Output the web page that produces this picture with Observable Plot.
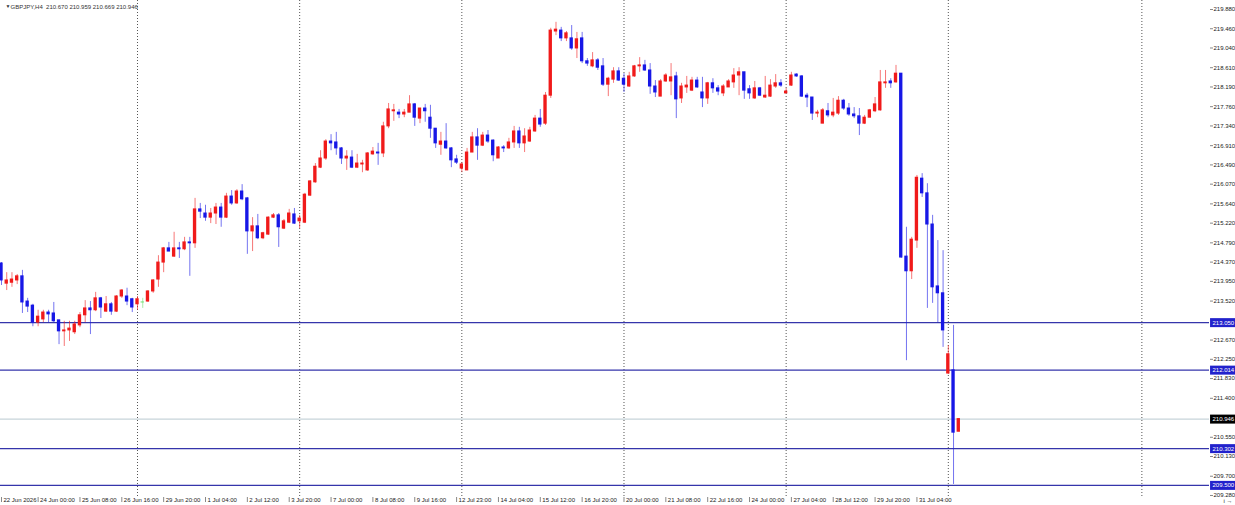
<!DOCTYPE html>
<html>
<head>
<meta charset="utf-8">
<script src="https://cdn.jsdelivr.net/npm/d3@7"></script>
<script src="https://cdn.jsdelivr.net/npm/@observablehq/plot@0.6"></script>
<style>
  body { margin: 0; background: #fff; }
  #chart { width: 1235px; height: 505px; }
</style>
</head>
<body>
<div id="chart"></div>
<script>
// GBPJPY H4, una vela por barra (índice 0..183)
const opens = [214.34,213.90,213.92,213.97,214.06,213.51,213.42,213.05,213.12,213.27,
  213.25,213.10,212.86,212.88,212.84,212.99,213.21,213.36,213.32,213.58,
  213.29,213.45,213.29,213.62,213.62,213.56,213.45,213.49,213.51,213.73,
  213.99,214.36,214.67,214.49,214.67,214.65,214.80,214.78,215.52,215.43,
  215.34,215.43,215.56,215.34,215.80,215.65,215.91,215.76,215.04,215.15,
  214.89,214.97,215.34,215.39,215.10,215.23,215.41,215.26,215.23,215.82,
  216.11,216.43,216.63,217.00,216.98,216.85,216.63,216.65,216.43,216.50,
  216.37,216.72,216.76,216.74,217.33,217.66,217.63,217.59,217.63,217.81,
  217.50,217.72,217.52,217.28,216.93,217.00,216.85,216.61,216.41,216.37,
  216.76,217.09,216.91,217.13,217.02,216.63,216.87,216.85,216.98,217.22,
  216.96,217.00,217.22,217.50,217.39,218.00,219.40,219.42,219.25,219.25,
  219.03,219.25,218.75,218.64,218.77,218.64,218.24,218.35,218.53,218.37,
  218.20,218.42,218.64,218.66,218.55,218.20,217.98,218.31,218.31,218.42,
  217.94,218.18,218.11,218.33,218.07,217.94,218.27,218.16,218.05,218.18,
  218.29,218.44,218.51,218.14,217.94,218.16,217.96,217.98,218.20,218.27,
  218.05,218.22,218.46,218.42,218.00,217.96,217.61,217.39,217.66,217.57,
  217.61,217.89,217.72,217.59,217.55,217.39,217.52,217.66,217.68,218.27,
  218.31,218.29,218.48,214.49,214.17,214.84,216.19,215.87,215.19,213.84,
  213.69,211.94,212.01,210.670]

const highs = [214.36,214.14,214.14,214.10,214.19,213.58,213.45,213.32,213.32,213.32,
  213.49,213.10,213.08,213.08,213.08,213.27,213.53,213.51,213.71,213.60,
  213.62,213.49,213.64,213.77,213.80,213.58,213.62,213.58,213.75,213.99,
  214.51,214.69,214.80,215.02,214.80,214.91,214.91,215.76,215.65,215.61,
  215.54,215.65,215.65,215.87,215.93,215.95,216.06,215.78,215.34,215.41,
  215.02,215.36,215.43,215.43,215.30,215.52,215.54,215.39,215.87,216.15,
  216.52,216.80,217.04,217.15,217.20,216.87,216.80,216.80,216.72,216.59,
  216.76,216.87,216.96,217.42,217.83,217.81,217.70,217.70,218.00,217.83,
  217.72,217.81,217.79,217.28,217.20,217.39,216.87,216.70,216.54,216.85,
  217.20,217.28,217.20,217.24,217.04,216.89,216.91,217.07,217.33,217.31,
  217.28,217.31,217.57,217.70,218.07,219.47,219.60,219.49,219.40,219.53,
  219.38,219.38,218.81,218.94,218.81,218.81,218.40,218.61,218.61,218.48,
  218.51,218.66,218.83,218.77,218.70,218.33,218.35,218.48,218.70,218.51,
  218.27,218.42,218.40,218.40,218.40,218.29,218.37,218.22,218.24,218.35,
  218.59,218.61,218.51,218.22,218.31,218.18,218.42,218.35,218.46,218.35,
  218.16,218.51,218.48,218.44,218.05,217.96,217.68,217.72,217.83,217.94,
  217.98,217.92,217.83,217.74,217.72,217.57,217.70,217.96,218.55,218.55,
  218.37,218.66,218.48,215.13,214.91,216.26,216.30,216.08,215.39,214.84,
  214.62,212.55,212.99,210.959]

const lows = [213.86,213.75,213.82,213.88,213.25,213.27,212.96,212.96,213.05,213.05,
  213.05,212.57,212.53,212.64,212.79,212.94,213.05,212.79,213.29,213.14,
  213.27,213.21,213.27,213.58,213.42,213.27,213.32,213.36,213.49,213.69,
  213.82,214.14,214.60,214.47,214.45,214.62,214.06,214.67,215.32,215.26,
  215.21,215.19,215.13,215.32,215.61,215.63,215.71,214.54,214.60,214.86,
  214.86,214.95,215.32,214.69,215.08,215.21,215.19,215.10,215.21,215.80,
  216.09,216.41,216.59,216.80,216.70,216.50,216.37,216.41,216.41,216.32,
  216.35,216.70,216.48,216.65,217.28,217.44,217.50,217.52,217.63,217.33,
  217.39,217.42,217.07,216.85,216.70,216.83,216.43,216.50,216.32,216.37,
  216.76,216.59,216.89,216.96,216.56,216.63,216.76,216.83,216.85,216.85,
  216.76,216.98,217.20,217.31,217.35,217.94,219.31,219.18,219.18,218.99,
  218.81,218.70,218.64,218.61,218.55,218.20,217.98,218.27,218.31,218.07,
  218.18,218.40,218.51,218.53,218.03,217.96,217.98,218.29,218.00,217.50,
  217.83,218.05,218.09,218.16,217.74,217.81,218.05,218.00,217.98,218.18,
  218.16,218.00,217.92,217.92,217.92,217.98,217.94,217.96,218.16,218.18,
  218.05,218.20,218.40,217.96,217.74,217.46,217.52,217.39,217.52,217.52,
  217.57,217.68,217.55,217.50,217.13,217.37,217.52,217.63,217.66,218.16,
  218.16,218.27,214.45,212.22,213.99,214.67,215.78,213.36,213.47,213.05,
  212.51,211.92,209.52,210.669]

const closes = [213.97,213.97,213.99,214.06,213.49,213.40,213.05,213.18,213.27,213.23,
  213.08,212.86,212.88,212.92,213.01,213.21,213.36,213.32,213.58,213.38,
  213.45,213.29,213.62,213.75,213.51,213.38,213.56,213.49,213.73,213.97,
  214.36,214.67,214.60,214.67,214.65,214.80,214.78,215.52,215.47,215.34,
  215.43,215.56,215.34,215.80,215.65,215.91,215.74,215.04,215.15,214.89,
  215.00,215.34,215.39,215.13,215.26,215.43,215.21,215.32,215.84,216.13,
  216.45,216.63,217.00,216.96,216.85,216.63,216.67,216.43,216.52,216.52,
  216.74,216.78,216.74,217.33,217.70,217.68,217.59,217.63,217.81,217.52,
  217.72,217.66,217.28,216.96,217.00,216.85,216.59,216.54,216.50,216.76,
  217.09,216.91,217.13,217.00,216.70,216.87,216.85,216.98,217.22,216.96,
  217.11,217.24,217.50,217.37,218.00,219.42,219.44,219.25,219.36,219.03,
  219.23,218.75,218.70,218.77,218.61,218.24,218.37,218.53,218.33,218.24,
  218.42,218.64,218.66,218.55,218.20,218.07,218.31,218.44,218.40,217.92,
  218.20,218.22,218.33,218.18,217.94,218.27,218.16,218.09,218.20,218.31,
  218.44,218.51,218.11,218.05,218.16,218.00,218.00,218.22,218.27,218.22,
  218.09,218.44,218.42,217.98,217.96,217.61,217.63,217.68,217.57,217.63,
  217.89,217.72,217.59,217.55,217.39,217.52,217.68,217.81,218.29,218.29,
  218.27,218.48,214.47,214.17,214.86,216.21,215.87,215.19,213.82,213.69,
  212.88,212.36,210.65,210.946]

// niveles horizontales (líneas azules) y precio actual
const levels = [213.050, 212.014, 210.302, 209.500]
const currentPrice = 210.946

// marcas del eje de precios
const priceTicks = [219.88, 219.46, 219.04, 218.61, 218.19, 217.76, 217.34, 216.91, 216.49,
  216.07, 215.64, 215.22, 214.79, 214.37, 213.95, 213.52, 212.67, 212.25, 211.83, 211.40,
  210.55, 210.13, 209.70, 209.28]

// etiquetas de tiempo (cada 8 barras) y separadores punteados
const dateBars = [0, 7, 15, 23, 31, 39, 47, 55, 63, 71, 79, 87, 95, 103, 111, 119, 127, 135, 143, 151, 159, 167, 175]
const dateLabels = ['22 Jun 2026', '24 Jun 00:00', '25 Jun 08:00', '26 Jun 16:00', '29 Jun 20:00',
  '1 Jul 04:00', '2 Jul 12:00', '3 Jul 20:00', '7 Jul 00:00', '8 Jul 08:00', '9 Jul 16:00',
  '12 Jul 23:00', '14 Jul 04:00', '15 Jul 12:00', '16 Jul 20:00', '20 Jul 00:00', '21 Jul 08:00',
  '22 Jul 16:00', '24 Jul 00:00', '27 Jul 04:00', '28 Jul 12:00', '29 Jul 20:00', '31 Jul 04:00']
const gridBars = [26, 57, 88, 119, 150, 181, 218]

const titulo = 'GBPJPY,H4  210.670 210.959 210.669 210.946'

// tabla de velas
const bars = opens.map((o, i) => ({ i, o, h: highs[i], l: lows[i], c: closes[i] }))
const color = d => d.c > d.o ? '#f01a1a' : d.c < d.o ? '#1717e6' : '#6fdc6f'

const xDom = [-0.191, 230.93]
const fmt = d3.format('.3f')

let chart = Plot.plot({
  width: 1235,
  height: 505,
  marginTop: 0,
  marginLeft: 0,
  marginRight: 26,
  marginBottom: 8,
  style: { fontFamily: 'Liberation Sans, Arial, sans-serif', fontSize: '6px', background: '#fff', color: '#222' },
  x: { type: 'linear', domain: xDom, axis: null },
  y: { domain: [209.236, 220.076], axis: null },
  marks: [
    // separadores verticales punteados
    Plot.ruleX(gridBars, { x: d => d, stroke: '#555', strokeDasharray: '1,2', strokeWidth: 1 }),

    // línea del precio actual y niveles
    Plot.ruleY([currentPrice], { y: d => d, stroke: '#b9c9d1', strokeWidth: 1 }),
    Plot.ruleY(levels, { y: d => d, stroke: '#3535ab', strokeWidth: 1.3 }),

    // mechas
    Plot.ruleX(bars, { x: 'i', y1: 'l', y2: 'h', stroke: color, strokeWidth: 1, strokeOpacity: 0.6 }),
    // cuerpos
    Plot.rect(bars, {
      x1: d => d.i - 0.32,
      x2: d => d.i + 0.32,
      y1: d => Math.min(d.o, d.c),
      y2: d => Math.max(d.o, d.c),
      fill: color,
      insetTop: -0.5,
      insetBottom: -0.5,
    }),

    // eje de precios a la derecha
    Plot.axisY({
      anchor: 'right',
      ticks: priceTicks,
      tickFormat: fmt,
      tickSize: 3,
      tickPadding: 1,
      line: true,
      stroke: '#888',
      fill: '#222',
    }),

    // eje de tiempo
    Plot.axisX({ ticks: dateBars, tickSize: 5, tickFormat: () => '', line: true, stroke: '#888' }),
    Plot.text(dateBars, {
      x: d => d,
      text: (d, i) => dateLabels[i],
      frameAnchor: 'bottom',
      dy: 4,
      dx: 2,
      textAnchor: 'start',
      fill: '#222',
    }),

    // etiquetas de niveles en el eje
    Plot.ruleY(levels, { y: d => d, x1: xDom[1] + 0.2, x2: xDom[1] + 6, stroke: '#2222cc', strokeWidth: 9 }),
    Plot.ruleY([currentPrice], { y: d => d, x1: xDom[1] + 0.2, x2: xDom[1] + 6, stroke: '#000', strokeWidth: 9 }),
    Plot.text(levels.concat([currentPrice]), {
      y: d => d,
      text: d => fmt(d),
      frameAnchor: 'right',
      dx: 3,
      textAnchor: 'start',
      fill: '#fff',
    }),

    // título
    Plot.text(['▼'], { frameAnchor: 'top-left', dx: 5, dy: 4, fontSize: 5, fill: '#333' }),
    Plot.text([titulo], { frameAnchor: 'top-left', dx: 10, dy: 4, textAnchor: 'start', fill: '#333' }),
  ],
})

d3.select('#chart').append(() => chart)
</script>
</body>
</html>
